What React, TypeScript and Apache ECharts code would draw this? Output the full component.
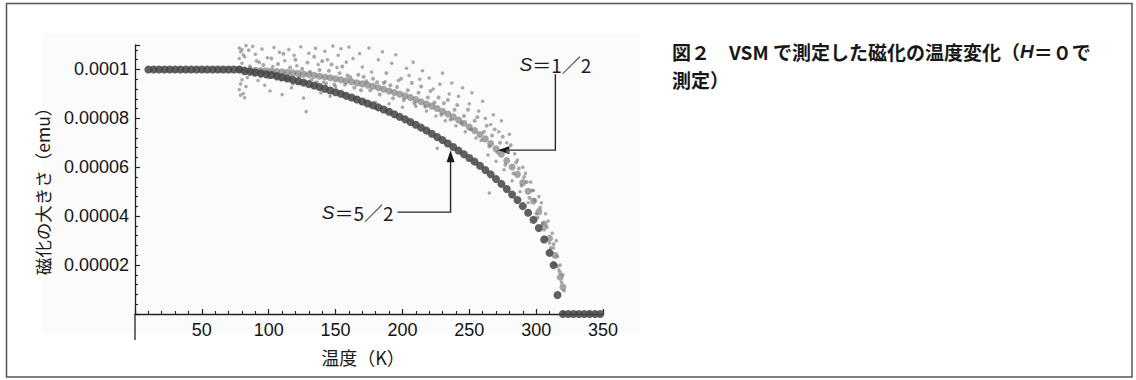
import React, { useEffect, useRef } from 'react';
import * as echarts from 'echarts';

// ---- Data ----
const xTickValues = [50, 100, 150, 200, 250, 300, 350];
const yTickLabels = ['', '0.00002', '0.00004', '0.00006', '0.00008', '0.0001'];

// S = 5/2 : temperature (K) and magnetisation (emu)
const s52Temp = [
  10, 14, 18, 22, 26, 30, 34, 38, 42, 46, 50, 54, 58, 62, 66, 70, 74, 78,
  82, 86, 90, 94, 98, 102, 106, 110, 114, 118, 122, 126, 130, 134, 138, 142, 146, 150,
  154, 158, 162, 166, 170, 174, 178, 182, 186, 190, 194, 198, 202, 206, 210, 214,
  218, 222, 226, 230, 234, 238, 242, 246, 250, 254, 258, 262, 266, 270, 274, 278,
  282, 286, 290, 294, 298, 302, 306, 310, 313, 316,
  320, 324, 328, 332, 336, 340, 344, 348,
];
const s52Mag = [
  0.0001, 0.0001, 0.0001, 0.0001, 0.0001, 0.0001, 0.0001, 0.0001, 0.0001, 0.0001, 0.0001, 0.0001, 0.0001, 0.0001, 0.0001, 0.0001, 0.0001, 0.0001,
  0.0000993, 0.000099, 0.0000987, 0.0000984, 0.000098, 0.0000977, 0.0000973, 0.0000968, 0.0000963, 0.0000958, 0.0000952, 0.0000946, 0.000094, 0.0000934, 0.0000928, 0.0000921, 0.0000914, 0.0000907,
  0.00009, 0.0000892, 0.0000885, 0.0000877, 0.0000869, 0.0000861, 0.0000853, 0.0000845, 0.0000836, 0.0000827, 0.0000817, 0.0000806, 0.0000796, 0.0000785, 0.0000774, 0.0000762,
  0.000075, 0.0000737, 0.0000724, 0.0000711, 0.0000697, 0.0000683, 0.0000668, 0.0000653, 0.0000638, 0.0000623, 0.0000606, 0.0000589, 0.0000571, 0.0000552, 0.0000532, 0.0000511,
  0.0000489, 0.0000466, 0.0000441, 0.0000414, 0.0000385, 0.0000352, 0.0000305, 0.000025, 0.00002, 0.0000078,
  0, 0, 0, 0, 0, 0, 0, 0,
];

// S = 1/2 : central band
const s12BandTemp = [
  78, 82, 86, 90, 94, 98, 102, 106, 110, 114, 118, 122, 126, 130, 134, 138, 142, 146, 150,
  154, 158, 162, 166, 170, 174, 178, 182, 186, 190, 194, 198, 202, 206, 210, 214, 218,
  222, 226, 230, 234, 238, 242, 246, 250, 254, 258, 262, 266, 270, 274, 278, 282, 286,
  290, 294, 298, 302, 306, 310, 314, 318, 320,
];
const s12BandMag = [
  0.0001, 0.0000999, 0.0000998, 0.0000997, 0.0000996, 0.0000995, 0.0000994, 0.0000992, 0.000099, 0.0000988, 0.0000986, 0.0000984, 0.0000981, 0.0000979, 0.0000976, 0.0000972, 0.0000969, 0.0000966, 0.0000962,
  0.0000958, 0.0000954, 0.000095, 0.0000945, 0.0000941, 0.0000936, 0.0000931, 0.0000925, 0.0000919, 0.0000912, 0.0000906, 0.0000899, 0.0000892, 0.0000885, 0.0000877, 0.0000868, 0.0000859,
  0.000085, 0.000084, 0.0000829, 0.0000818, 0.0000806, 0.0000793, 0.000078, 0.0000765, 0.000075, 0.0000734, 0.0000716, 0.0000697, 0.0000676, 0.0000653, 0.0000628, 0.0000601, 0.0000571,
  0.0000538, 0.0000502, 0.0000462, 0.0000418, 0.0000368, 0.000031, 0.000024, 0.000015, 0.000011,
];

// S = 1/2 : scattered points far from the band
const s12Scatter: [number, number][] = [
  [78, 0.0001088], [79, 0.0001072], [80, 0.0001081], [81, 0.000106], [78, 0.0001045], [82, 0.0001052],
  [80, 0.0000958], [79, 0.0000941], [83, 0.000093], [78, 0.0000918], [81, 0.0000902], [82, 0.0000884],
  [84, 0.0000967], [85, 0.0001079], [80, 0.0001025], [83, 0.0001098], [79, 0.0000895],
  [88, 0.0001095], [90, 0.0001062], [92, 0.0000955], [95, 0.0001084], [97, 0.0000935], [99, 0.0001048],
  [101, 0.0000912], [104, 0.000109], [106, 0.000096], [108, 0.000107], [110, 0.0000898], [112, 0.0001036],
  [115, 0.0001082], [117, 0.0000925], [119, 0.0001058], [122, 0.0000945], [124, 0.0001093], [126, 0.0000883],
  [128, 0.0000828], [130, 0.0001066], [133, 0.0000935], [135, 0.0001087], [137, 0.000102], [139, 0.0000905],
  [142, 0.0001074], [144, 0.000104], [146, 0.000089], [148, 0.0001096], [150, 0.000093], [152, 0.0001058],
  [154, 0.0001085], [156, 0.0000902], [158, 0.000103], [160, 0.0001092], [93, 0.0001028], [103, 0.0001012],
  [113, 0.0000958], [121, 0.0001015], [131, 0.0000992], [141, 0.0000948], [151, 0.0001008],
  [163, 0.0001045], [165, 0.0000885], [168, 0.0001065], [170, 0.000101], [172, 0.0000872], [175, 0.0001088],
  [177, 0.000099], [180, 0.0000865], [182, 0.000104], [185, 0.0001072], [187, 0.000095], [190, 0.000086],
  [192, 0.0001025], [195, 0.000106], [197, 0.0000955], [200, 0.0000845], [203, 0.0001005], [205, 0.0000975],
  [208, 0.000103], [210, 0.000085],
  [213, 0.000096], [215, 0.0000995], [218, 0.000083], [220, 0.0000965], [223, 0.000092], [225, 0.000081],
  [228, 0.000094], [230, 0.0000985], [232, 0.000079], [235, 0.00009], [237, 0.0000945], [240, 0.000077],
  [242, 0.000089], [245, 0.0000925], [247, 0.0000745], [250, 0.000086], [252, 0.0000905], [255, 0.000072],
  [257, 0.000083], [260, 0.000087],
  [262, 0.00008], [264, 0.000065], [266, 0.0000775], [268, 0.0000815], [270, 0.0000625], [272, 0.0000745],
  [274, 0.000079], [276, 0.000059], [278, 0.00007], [280, 0.0000735], [282, 0.0000545], [284, 0.0000655],
  [286, 0.000063], [288, 0.00005], [290, 0.00006], [292, 0.0000575], [294, 0.0000455], [296, 0.000054],
  [298, 0.0000505], [300, 0.000041],
  [302, 0.000048], [304, 0.0000455], [305, 0.000037], [307, 0.000041], [309, 0.000038], [310, 0.000029],
  [312, 0.000033], [313, 0.000027], [314, 0.0000205], [315, 0.00003], [316, 0.0000235], [317, 0.000018],
  [318, 0.00002], [319, 0.000013], [320, 0.000016], [321, 0.0000095],
  [226, 0.0000678], [265, 0.0000495], [180, 0.000084],
];

// S = 1/2 : scattered points close to the band
const s12Near: [number, number][] = [
  [86, 0.0001012], [89, 0.0000978], [91, 0.0001035], [94, 0.0000972], [96, 0.0001018], [100, 0.0000968],
  [102, 0.0001045], [105, 0.0000975], [107, 0.0001022], [109, 0.0000958], [111, 0.0001064], [114, 0.0000962],
  [116, 0.0001008], [118, 0.0000942], [120, 0.000104], [123, 0.0000968], [125, 0.0001003], [127, 0.000095],
  [129, 0.0001028], [132, 0.0000958], [134, 0.0001052], [136, 0.0000948], [138, 0.0000998], [140, 0.0001034],
  [143, 0.0000942], [145, 0.0000995], [147, 0.000102], [149, 0.0000938], [153, 0.0000985], [155, 0.0001012],
  [157, 0.0000938], [159, 0.0000975],
  [161, 0.0000968], [164, 0.0000925], [167, 0.0000978], [169, 0.0000915], [171, 0.000097], [173, 0.0000952],
  [176, 0.0000915], [178, 0.0000962], [181, 0.0000948], [183, 0.0000898], [186, 0.0000945], [188, 0.0000985],
  [191, 0.0000935], [193, 0.0000882], [196, 0.0000928], [199, 0.0000962], [201, 0.0000875], [204, 0.0000915],
  [207, 0.0000945], [209, 0.0000862], [212, 0.0000905], [214, 0.000093], [217, 0.0000848], [219, 0.0000885],
  [221, 0.0000912], [224, 0.0000865], [227, 0.0000885], [229, 0.0000815], [231, 0.0000862], [234, 0.0000875],
  [236, 0.0000795], [239, 0.0000835], [241, 0.0000855], [244, 0.000078], [246, 0.000081], [249, 0.0000835],
  [251, 0.0000755], [254, 0.000079], [256, 0.0000805], [259, 0.000071],
  [261, 0.0000745], [263, 0.000077], [265, 0.0000685], [267, 0.000073], [269, 0.0000755], [271, 0.000066],
  [273, 0.00007], [275, 0.0000725], [277, 0.000061], [279, 0.0000665], [281, 0.000069], [283, 0.0000575],
  [285, 0.000062], [287, 0.0000595], [289, 0.0000525], [291, 0.000056], [293, 0.000054], [295, 0.0000475],
  [297, 0.0000505], [299, 0.0000465], [301, 0.0000395], [303, 0.0000435], [306, 0.0000345], [308, 0.0000355],
  [311, 0.000027], [313, 0.0000285], [316, 0.0000195], [318, 0.000017],
];

// annotation anchors (data coordinates the arrows point to)
const anno12 = { label: 'S＝1／2', point: [271, 0.000067] };
const anno52 = { label: 'S＝5／2', point: [236, 0.000067] };

const NUM_FONT = "'Liberation Sans', Arial, Helvetica, sans-serif";
const JP_FONT = "'Noto Sans CJK JP', 'Liberation Sans', sans-serif";

export default function App() {
  const ref = useRef<HTMLDivElement>(null);
  useEffect(() => {
    if (!ref.current) return;
    const chart = echarts.init(ref.current, undefined, { renderer: 'svg' });
    const s52 = s52Temp.map((t, i) => [t, s52Mag[i]]);
    const band = s12BandTemp.map((t, i) => [t, s12BandMag[i]]);
    chart.setOption({
      animation: false,
      backgroundColor: '#ffffff',
      grid: { left: 135, right: 533, top: 45, bottom: 66 },
      xAxis: {
        type: 'value',
        min: 0,
        max: 350,
        interval: 50,
        axisLine: { show: true, onZero: false, lineStyle: { color: '#222', width: 1.3 } },
        axisTick: { show: true, inside: true, length: 5, lineStyle: { color: '#222', width: 1.2 } },
        minorTick: { show: true, splitNumber: 5, length: 3, lineStyle: { color: '#222', width: 1.1 } },
        splitLine: { show: false },
        axisLabel: {
          margin: 7,
          color: '#141414',
          fontSize: 18,
          fontFamily: NUM_FONT,
          formatter: (v: number) => (xTickValues.indexOf(v) >= 0 ? String(v) : ''),
        },
      },
      yAxis: {
        type: 'value',
        min: 0,
        max: 0.00011,
        interval: 0.00002,
        axisLine: { show: true, onZero: false, lineStyle: { color: '#222', width: 1.3 } },
        axisTick: { show: true, inside: true, length: 5, lineStyle: { color: '#222', width: 1.2 } },
        minorTick: { show: true, splitNumber: 5, length: 3, lineStyle: { color: '#222', width: 1.1 } },
        splitLine: { show: false },
        axisLabel: {
          margin: 6,
          color: '#141414',
          fontSize: 18,
          fontFamily: NUM_FONT,
          formatter: (v: number) => yTickLabels[Math.round(v / 0.00002)] ?? '',
        },
      },
      series: [
        {
          name: 'S=1/2 scatter',
          type: 'scatter',
          data: s12Scatter,
          symbolSize: 3.5,
          itemStyle: { color: '#8c8c8c', opacity: 0.75 },
          z: 2,
        },
        {
          name: 'S=1/2 near',
          type: 'scatter',
          data: s12Near,
          symbolSize: 4,
          itemStyle: { color: '#858585', opacity: 0.7 },
          z: 2,
        },
        {
          name: 'S=1/2',
          type: 'scatter',
          data: band,
          symbolSize: 7,
          itemStyle: { color: '#747474', opacity: 0.65 },
          z: 3,
        },
        {
          name: 'S=5/2',
          type: 'scatter',
          data: s52,
          symbolSize: 8,
          itemStyle: { color: '#444', opacity: 0.85 },
          z: 4,
        },
      ],
    });

    const origin = chart.convertToPixel({ gridIndex: 0 }, [0, 0]) as number[];
    const t12 = chart.convertToPixel({ gridIndex: 0 }, anno12.point) as number[];
    const t52 = chart.convertToPixel({ gridIndex: 0 }, anno52.point) as number[];
    const lineStyle = { stroke: '#2a2a2a', lineWidth: 1.4, fill: 'none' };
    const italicRich = (fs: number) => ({
      i: { fontStyle: 'italic', fontSize: fs, fontFamily: NUM_FONT, fill: '#1a1a1a' },
      n: { fontSize: fs, fontFamily: JP_FONT, fill: '#1a1a1a' },
    });

    const e12 = [t12[0] + 58, t12[1]];
    const e52 = [t52[0], t52[1] + 62];

    chart.setOption({
      graphic: [
        {
          type: 'rect',
          z: -10,
          silent: true,
          shape: { x: 42, y: 33, width: 598, height: 300 },
          style: { fill: '#fbfbfb' },
        },
        {
          type: 'rect',
          z: 100,
          silent: true,
          shape: { x: 6.5, y: 3.5, width: 1125.5, height: 373.5 },
          style: { fill: 'none', stroke: '#555', lineWidth: 1.5 },
        },
        // y axis continues a little below the x axis
        {
          type: 'line',
          silent: true,
          shape: { x1: origin[0], y1: origin[1], x2: origin[0], y2: origin[1] + 26 },
          style: { stroke: '#222', lineWidth: 1.3 },
        },
        // axis names
        {
          type: 'text',
          x: 363,
          y: 357,
          style: {
            text: '温度（K）',
            fontSize: 18,
            fontFamily: JP_FONT,
            fill: '#1a1a1a',
            align: 'center',
            verticalAlign: 'middle',
          },
        },
        {
          type: 'text',
          x: 42,
          y: 187,
          rotation: Math.PI / 2,
          style: {
            text: '磁化の大きさ（emu）',
            fontSize: 17.5,
            fontFamily: JP_FONT,
            fill: '#1a1a1a',
            align: 'center',
            verticalAlign: 'middle',
          },
        },
        // caption
        {
          type: 'text',
          x: 672,
          y: 51,
          style: {
            text: '{b|図２　VSM で測定した磁化の温度変化（}{bi|H}{b|＝０で}',
            verticalAlign: 'middle',
            rich: {
              b: { fontSize: 19, fontWeight: 'bold', fontFamily: JP_FONT, fill: '#181818' },
              bi: { fontSize: 19, fontWeight: 'bold', fontStyle: 'italic', fontFamily: NUM_FONT, fill: '#181818' },
            },
          },
        },
        {
          type: 'text',
          x: 672,
          y: 79,
          style: {
            text: '測定）',
            verticalAlign: 'middle',
            fontSize: 19,
            fontWeight: 'bold',
            fontFamily: JP_FONT,
            fill: '#181818',
          },
        },
        // S = 1/2 annotation
        {
          type: 'polyline',
          silent: true,
          shape: { points: [[t12[0] + 10, t12[1]], e12, [e12[0], e12[1] - 76]] },
          style: lineStyle,
        },
        {
          type: 'polygon',
          silent: true,
          shape: { points: [[t12[0], t12[1]], [t12[0] + 12, t12[1] - 4], [t12[0] + 12, t12[1] + 4]] },
          style: { fill: '#1a1a1a' },
        },
        {
          type: 'text',
          x: e12[0],
          y: e12[1] - 86,
          style: {
            text: '{i|S}{n|＝1／2}',
            align: 'center',
            verticalAlign: 'middle',
            rich: italicRich(19),
          },
        },
        // S = 5/2 annotation
        {
          type: 'polyline',
          silent: true,
          shape: { points: [[t52[0], t52[1] + 10], e52, [e52[0] - 53, e52[1]]] },
          style: lineStyle,
        },
        {
          type: 'polygon',
          silent: true,
          shape: { points: [[t52[0], t52[1]], [t52[0] - 4, t52[1] + 12], [t52[0] + 4, t52[1] + 12]] },
          style: { fill: '#1a1a1a' },
        },
        {
          type: 'text',
          x: e52[0] - 57,
          y: e52[1],
          style: {
            text: '{i|S}{n|＝5／2}',
            align: 'right',
            verticalAlign: 'middle',
            rich: italicRich(19),
          },
        },
      ],
    });

    return () => chart.dispose();
  }, []);

  return (
    <div
      ref={ref}
      style={{ position: 'fixed', left: 0, top: 0, width: 1136, height: 380, background: '#fff' }}
    />
  );
}
